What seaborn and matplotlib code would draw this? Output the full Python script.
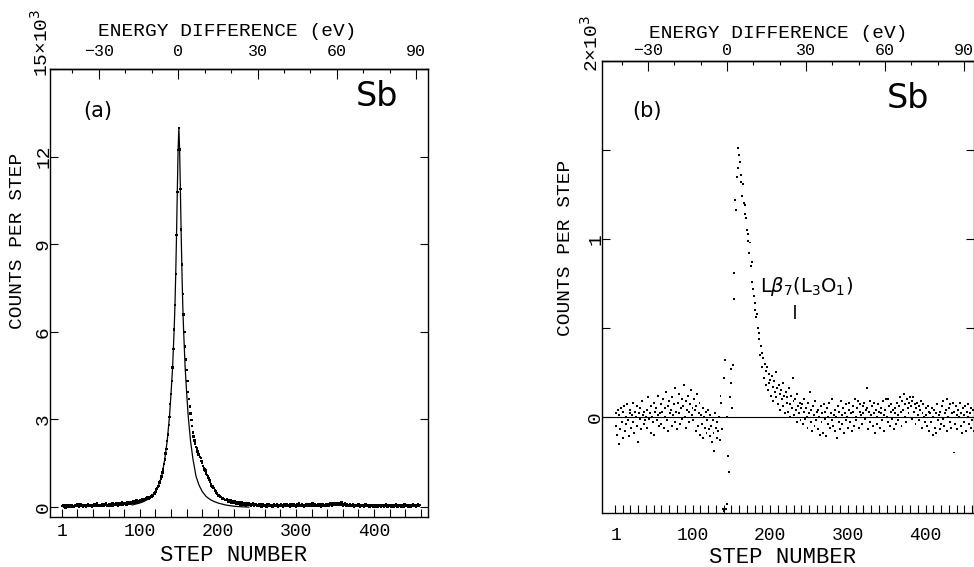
import numpy as np
import matplotlib
matplotlib.use("Agg")
import matplotlib.pyplot as plt
import seaborn as sns
from matplotlib.ticker import MultipleLocator, FixedLocator

# ---------------- data (counts in units of 10^3) ----------------
# panel (a): measured counts per step, steps 1..458
left_counts_1_120 = [
    0.03, 0.06, 0.01, 0.05, -0.02, 0.04, 0.07, 0.02, 0.05, 0.00, 0.06, 0.03, 0.08, 0.02, 0.04, 0.01, 0.07, 0.03, 0.05, 0.09,
    0.04, 0.02, 0.06, 0.10, 0.03, 0.05, 0.01, 0.07, 0.04, 0.08, 0.02, 0.06, 0.05, 0.11, 0.03, 0.07, 0.04, 0.06, 0.02, 0.08,
    0.05, 0.09, 0.03, 0.07, 0.12, 0.04, 0.06, 0.08, 0.03, 0.07, 0.05, 0.10, 0.06, 0.04, 0.09, 0.07, 0.13, 0.05, 0.08, 0.06,
    0.10, 0.07, 0.05, 0.09, 0.12, 0.06, 0.08, 0.11, 0.07, 0.14, 0.09, 0.06, 0.10, 0.13, 0.08, 0.11, 0.16, 0.09, 0.12, 0.10,
    0.14, 0.11, 0.09, 0.15, 0.12, 0.18, 0.13, 0.10, 0.16, 0.14, 0.19, 0.15, 0.13, 0.20, 0.17, 0.22, 0.16, 0.21, 0.19, 0.24,
    0.20, 0.23, 0.26, 0.21, 0.25, 0.28, 0.24, 0.30, 0.27, 0.33, 0.29, 0.35, 0.32, 0.38, 0.36, 0.42, 0.40, 0.47, 0.45, 0.52,
]
left_counts_121_211 = [
    0.60, 0.63, 0.70, 0.73, 0.84, 0.87, 0.98, 1.04, 1.19, 1.28,
    1.48, 1.63, 1.84, 1.98, 2.27, 2.48, 2.82, 3.08, 3.52, 3.88,
    4.32, 4.78, 5.42, 6.08, 6.92, 7.98, 9.32, 10.78, 12.22, 12.98,
    12.25, 10.90, 9.50, 8.30, 7.30, 6.60, 6.00, 5.50, 5.05, 4.70,
    4.32, 3.95, 3.70, 3.44, 3.20, 2.98, 2.78, 2.55, 2.42, 2.28,
    2.18, 2.05, 2.01, 1.90, 1.80, 1.78, 1.72, 1.68, 1.57, 1.50,
    1.40, 1.33, 1.28, 1.25, 1.15, 1.10, 1.04, 1.00, 0.92, 0.88,
    0.80, 0.72, 0.70, 0.66, 0.65, 0.58, 0.55, 0.48, 0.45, 0.40,
    0.40, 0.38, 0.35, 0.34, 0.31, 0.30, 0.28, 0.27, 0.25, 0.25, 0.24,
]
left_counts_212_458 = [
    0.26, 0.19, 0.23, 0.17, 0.22, 0.15, 0.20, 0.18, 0.13, 0.19, 0.16, 0.12, 0.18, 0.14, 0.10, 0.17, 0.13, 0.09, 0.15,
    0.11, 0.14, 0.08, 0.13, 0.10, 0.06, 0.12, 0.09, 0.14, 0.07, 0.11, 0.05, 0.10, 0.08, 0.12, 0.04, 0.09, 0.07, 0.11, 0.06,
    0.03, 0.08, 0.10, 0.05, 0.09, 0.02, 0.07, 0.11, 0.04, 0.08, 0.06, 0.01, 0.09, 0.05, 0.10, 0.03, 0.07, 0.04, 0.08, 0.02,
    0.06, 0.10, 0.03, 0.07, 0.05, 0.09, 0.01, 0.06, 0.08, 0.04, 0.11, 0.05, 0.02, 0.07, 0.09, 0.03, 0.06, 0.10, 0.04, 0.08,
    0.05, 0.02, 0.09, 0.06, 0.03, 0.08, 0.11, 0.04, 0.07, 0.01, 0.06, 0.09, 0.05, 0.12, 0.03, 0.07, 0.04, 0.10, 0.06, 0.02,
    0.08, 0.05, 0.10, 0.03, 0.07, 0.11, 0.06, 0.09, 0.04, 0.08, 0.12, 0.05, 0.07, 0.10, 0.03, 0.08, 0.06, 0.11, 0.04, 0.09,
    0.07, 0.02, 0.06, 0.10, 0.05, 0.08, 0.03, 0.07, 0.11, 0.06, 0.09, 0.04, 0.08, 0.12, 0.07, 0.05, 0.10, 0.13, 0.08, 0.11,
    0.09, 0.14, 0.10, 0.07, 0.12, 0.08, 0.11, 0.15, 0.09, 0.06, 0.10, 0.07, 0.12, 0.05, 0.09, 0.04, 0.08, 0.06, 0.10, 0.03,
    0.07, 0.05, 0.09, 0.02, 0.06, 0.08, 0.04, 0.07, 0.03, 0.09, 0.05, 0.01, 0.06, 0.08, 0.04, 0.07, 0.02, 0.05, 0.09, 0.03,
    0.06, 0.04, 0.08, 0.01, 0.05, 0.07, 0.03, 0.06, 0.02, 0.08, 0.04, 0.00, 0.05, 0.07, 0.02, 0.06, 0.03, 0.08, 0.01, 0.05,
    0.03, 0.07, 0.02, 0.05, 0.09, 0.04, 0.01, 0.06, 0.03, 0.08, 0.05, 0.02, 0.07, 0.04, 0.00, 0.06, 0.03, 0.09, 0.05, 0.02,
    0.06, 0.03, 0.08, 0.04, 0.01, 0.07, 0.05, 0.02, 0.09, 0.04, 0.06, 0.03, 0.08, 0.00, 0.05, 0.07, 0.02, 0.06, 0.04, 0.10,
    0.05, 0.03, 0.08, 0.02, 0.06, 0.09, 0.04, 0.07,
]

# panel (a): fitted line profile
fit_steps = [90, 100, 105, 110, 115, 120, 124, 128, 132, 135, 138, 140, 142, 144, 145, 146, 147, 148, 149,
             150, 151, 152, 153, 154, 155, 156, 158, 160, 162, 165, 168, 172, 176, 180, 185, 190, 195, 200,
             210, 220, 230, 240]
fit_counts = [0.07, 0.14, 0.19, 0.26, 0.36, 0.53, 0.74, 1.05, 1.65, 2.25, 3.1, 3.9, 4.8, 6.1, 6.9, 8.0, 9.3, 10.8, 12.2,
              13.0, 12.2, 10.8, 9.3, 8.0, 6.9, 6.1, 4.8, 3.9, 3.1, 2.25, 1.65, 1.05, 0.74, 0.53, 0.36, 0.26, 0.19, 0.14,
              0.07, 0.03, 0.01, 0.0]

# panel (b): residual counts per step, steps 1..462
right_resid = [
    -0.05, 0.02, -0.10, 0.04, -0.15, 0.01, -0.07, 0.05, -0.03, -0.12, 0.03, 0.06, -0.08, 0.00, -0.04, 0.07, -0.02, -0.11, 0.02, 0.04,
    -0.06, 0.01, 0.08, -0.03, -0.09, 0.03, 0.00, -0.05, 0.06, -0.14, 0.02, -0.01, 0.05, -0.07, 0.09, 0.01, -0.04, 0.03, -0.02, 0.00,
    0.04, -0.06, 0.11, -0.01, 0.02, -0.09, 0.06, 0.00, -0.03, 0.08, -0.10, 0.03, 0.05, -0.02, 0.01, 0.12, -0.05, 0.02, 0.07, -0.04,
    0.03, 0.10, -0.06, 0.05, 0.00, 0.14, -0.02, 0.06, -0.08, 0.09, 0.02, 0.04, -0.05, 0.11, 0.01, 0.07, -0.03, 0.16, 0.03, -0.07,
    0.08, 0.02, 0.13, -0.04, 0.05, 0.10, -0.01, 0.06, 0.18, 0.00, 0.09, -0.06, 0.04, 0.12, 0.03, -0.03, 0.07, 0.15, 0.01, 0.05,
    -0.02, 0.10, 0.04, -0.08, 0.06, 0.13, -0.05, 0.02, 0.08, -0.10, 0.01, -0.04, 0.05, -0.12, 0.00, -0.06, 0.03, -0.09, -0.02, 0.04,
    -0.07, -0.11, 0.01, -0.05, -0.14, -0.02, -0.09, -0.19, 0.02, -0.06, -0.12, -0.03, -0.08, 0.00, -0.13, 0.12, 0.08, -0.07, -0.52, 0.22,
    -0.53, 0.32, -0.52, -0.49, 0.00, -0.22, -0.31, 0.11, 0.19, 0.27, 0.05, 0.29, 0.81, 0.66, 1.22, 1.16, 1.35, 1.40, 1.51, 1.47,
    1.43, 1.36, 1.32, 1.24, 1.31, 1.20, 1.19, 1.14, 1.12, 1.05, 0.99, 1.03, 0.92, 0.98, 0.85, 0.87, 0.76, 0.72, 0.68, 0.64,
    0.60, 0.56, 0.58, 0.50, 0.47, 0.44, 0.35, 0.40, 0.36, 0.28, 0.33, 0.22, 0.30, 0.18, 0.26, 0.28, 0.15, 0.24, 0.19, 0.21,
    0.12, 0.23, 0.17, 0.09, 0.20, 0.14, 0.25, 0.11, 0.16, 0.07, 0.18, 0.13, 0.04, 0.15, 0.10, 0.19, 0.06, 0.12, 0.02, 0.14,
    0.08, 0.11, 0.03, 0.16, 0.07, 0.00, 0.12, 0.05, 0.22, 0.09, 0.01, 0.10, 0.04, -0.03, 0.13, 0.06, 0.02, 0.08, -0.02, 0.05,
    0.07, -0.04, 0.03, 0.10, -0.01, 0.05, 0.00, -0.06, 0.08, 0.02, 0.14, -0.03, 0.04, -0.08, 0.06, 0.01, -0.05, 0.09, -0.02, 0.03,
    -0.07, 0.04, 0.00, -0.10, 0.06, -0.03, 0.02, -0.09, 0.07, -0.01, 0.03, -0.11, 0.05, -0.04, 0.00, 0.08, -0.06, 0.02, -0.02, 0.10,
    -0.05, 0.01, -0.08, 0.04, 0.00, -0.12, 0.06, -0.03, 0.03, -0.07, 0.09, 0.01, -0.04, 0.05, -0.09, 0.02, 0.07, -0.02, 0.00, -0.06,
    0.04, 0.08, -0.03, 0.02, -0.08, 0.06, 0.03, -0.05, 0.10, 0.00, -0.02, 0.05, 0.09, -0.06, 0.03, 0.07, 0.01, -0.04, 0.06, 0.02,
    0.08, -0.01, 0.04, 0.16, 0.05, -0.07, 0.03, 0.09, -0.03, 0.01, 0.06, -0.05, 0.02, 0.08, -0.09, 0.04, 0.00, -0.04, 0.07, 0.03,
    -0.06, 0.02, 0.05, -0.02, 0.09, 0.01, -0.08, 0.04, 0.10, 0.00, -0.03, 0.10, 0.06, -0.05, 0.03, 0.07, -0.01, 0.04, -0.07, 0.02,
    0.05, -0.04, 0.08, 0.01, -0.02, 0.06, 0.11, 0.03, -0.05, 0.09, 0.04, 0.13, 0.00, 0.07, -0.03, 0.10, 0.05, 0.02, 0.08, 0.11,
    0.06, -0.01, 0.09, 0.11, 0.03, 0.07, -0.04, 0.05, 0.08, 0.01, 0.06, -0.02, 0.04, 0.09, -0.06, 0.02, 0.07, 0.00, -0.03, 0.05,
    0.01, -0.05, 0.06, 0.03, -0.08, 0.02, -0.03, 0.05, -0.10, 0.00, 0.04, -0.06, 0.02, -0.09, 0.07, -0.02, 0.01, -0.07, 0.03, -0.04,
    0.06, -0.01, 0.09, -0.05, 0.02, 0.04, -0.08, 0.10, 0.00, 0.05, -0.03, 0.07, -0.06, 0.02, 0.08, -0.20, 0.03, -0.04, 0.06, 0.01,
    -0.07, 0.04, 0.00, 0.08, -0.05, 0.02, -0.09, 0.05, 0.01, -0.03, 0.06, -0.08, 0.03, 0.00, 0.07, -0.04, 0.02, -0.06, 0.05, -0.02,
    0.04, -0.08,
]

# tick labels / annotations
step_tick_values = [1, 100, 200, 300, 400]
energy_tick_values = [-30, 0, 30, 60, 90]
left_y_ticks = [0, 3, 6, 9, 12, 15]
right_y_ticks = [0, 1, 2]
ev_per_step = 0.295
zero_step_a = 149.0
zero_step_b = 144.5
line_label = r"L$\beta_7$(L$_3$O$_1$)"
line_mark_step = 232
line_mark_range = (0.55, 0.63)

left_counts = left_counts_1_120 + left_counts_121_211 + left_counts_212_458
left_steps = np.arange(1, len(left_counts) + 1)
right_steps = np.arange(1, len(right_resid) + 1)

# ---------------- style ----------------
sns.set_theme(style="ticks", rc={"axes.edgecolor": "black", "xtick.color": "black",
                                 "ytick.color": "black", "text.color": "black",
                                 "axes.labelcolor": "black", "axes.linewidth": 1.0})
plt.rcParams["font.family"] = ["Liberation Mono", "DejaVu Sans"]
plt.rcParams["mathtext.fontset"] = "dejavusans"

W, H = 974, 567
fig = plt.figure(figsize=(W / 100, H / 100), dpi=100)


def fx(x):
    return x / W


def fy(y):
    return 1 - y / H


axL = fig.add_axes([fx(50), fy(517), 378 / W, 448 / H])
axR = fig.add_axes([fx(602), fy(513), 372 / W, 452 / H])

# ---------------- panel (a) ----------------
sns.scatterplot(x=left_steps, y=left_counts, ax=axL, s=3, marker="s", color="black",
                linewidth=0, edgecolor="none", legend=False)
sns.lineplot(x=fit_steps, y=fit_counts, ax=axL, color="black", linewidth=0.9,
             estimator=None, legend=False)
axL.set_xlim(-15, 469)
axL.set_ylim(-0.34, 15.0)

# ---------------- panel (b) ----------------
axR.axhline(0, color="black", linewidth=0.8, zorder=1)
sns.scatterplot(x=right_steps, y=right_resid, ax=axR, s=2, marker="s", color="black",
                linewidth=0, edgecolor="none", legend=False, zorder=3)
axR.vlines(line_mark_step, *line_mark_range, color="black", linewidth=1.2)
axR.set_xlim(-16.5, 462.3)
axR.set_ylim(-0.54, 2.0)


def setup(ax, yticks, ylabels, minor_y, minor_x_step, xpad, zero_step, top_pad):
    for sp in ax.spines.values():
        sp.set_visible(True)
        sp.set_color("black")
        sp.set_linewidth(1.0)
    ax.set_xlabel("")
    ax.set_ylabel("")
    ax.set_yticks(yticks)
    ax.set_yticklabels(ylabels)
    if minor_y is not None:
        ax.yaxis.set_minor_locator(FixedLocator(minor_y))
    ax.tick_params(axis="y", which="both", direction="in", left=True, right=True,
                   length=6, width=0.8, labelsize=14, labelrotation=90, pad=-1.5)
    for t in ax.get_yticklabels():
        t.set_va("center")
    ax.set_xticks(step_tick_values)
    ax.set_xticklabels([str(v) for v in step_tick_values])
    ax.xaxis.set_minor_locator(FixedLocator(np.arange(0, 470, minor_x_step)))
    ax.xaxis.remove_overlapping_locs = False
    ax.tick_params(axis="x", which="major", length=0, labelsize=13, pad=xpad,
                   top=False, bottom=True)
    ax.tick_params(axis="x", which="minor", direction="in", length=6, width=0.8,
                   top=False, bottom=True)
    sec = ax.secondary_xaxis(
        "top",
        functions=(lambda s: (s - zero_step) * ev_per_step,
                   lambda e: e / ev_per_step + zero_step))
    sec.set_xticks(energy_tick_values)
    sec.set_xticklabels([("\u2212" + str(-v)) if v < 0 else str(v) for v in energy_tick_values])
    sec.xaxis.set_minor_locator(MultipleLocator(10))
    sec.tick_params(which="major", direction="in", length=7, width=0.8, labelsize=12, pad=top_pad)
    sec.tick_params(which="minor", direction="in", length=3, width=0.8)
    sec.spines["top"].set_linewidth(1.0)
    return sec


setup(axL, left_y_ticks, ["0", "3", "6", "9", "12", ""], None, 20, 4, zero_step_a, 7)
setup(axR, right_y_ticks, ["0", "1", ""], [0.5, 1.5], 10, 10, zero_step_b, 2)

# ---------------- texts ----------------
mono = ["Liberation Mono", "DejaVu Sans"]
sans = ["DejaVu Sans"]
fig.text(fx(41), fy(77), "15\u00d710$^3$", rotation=90, rotation_mode="anchor",
         ha="left", va="center", fontsize=14, family=mono)
fig.text(fx(591), fy(72), "2\u00d710$^3$", rotation=90, rotation_mode="anchor",
         ha="left", va="center", fontsize=14, family=mono)

for x, y in [(18, 241), (566, 248)]:
    fig.text(fx(x), fy(y), "COUNTS PER STEP", rotation=90, ha="center", va="center",
             fontsize=14, family=mono)
for x, y in [(234, 561), (783, 563)]:
    fig.text(fx(x), fy(y), "STEP NUMBER", ha="center", va="baseline", fontsize=16, family=mono)
for x, y in [(227, 32), (778, 33)]:
    fig.text(fx(x), fy(y), "ENERGY DIFFERENCE (eV)", ha="center", va="center",
             fontsize=14, family=mono)

fig.text(fx(98), fy(111), "(a)", ha="center", va="center", fontsize=15, family=sans)
fig.text(fx(647), fy(111), "(b)", ha="center", va="center", fontsize=15, family=sans)
fig.text(fx(377), fy(97), "Sb", ha="center", va="center", fontsize=24, family=sans)
fig.text(fx(908), fy(98), "Sb", ha="center", va="center", fontsize=24, family=sans)
fig.text(fx(807), fy(286), line_label, ha="center", va="center", fontsize=14, family=sans)

fig.savefig("out.png", dpi=100)
